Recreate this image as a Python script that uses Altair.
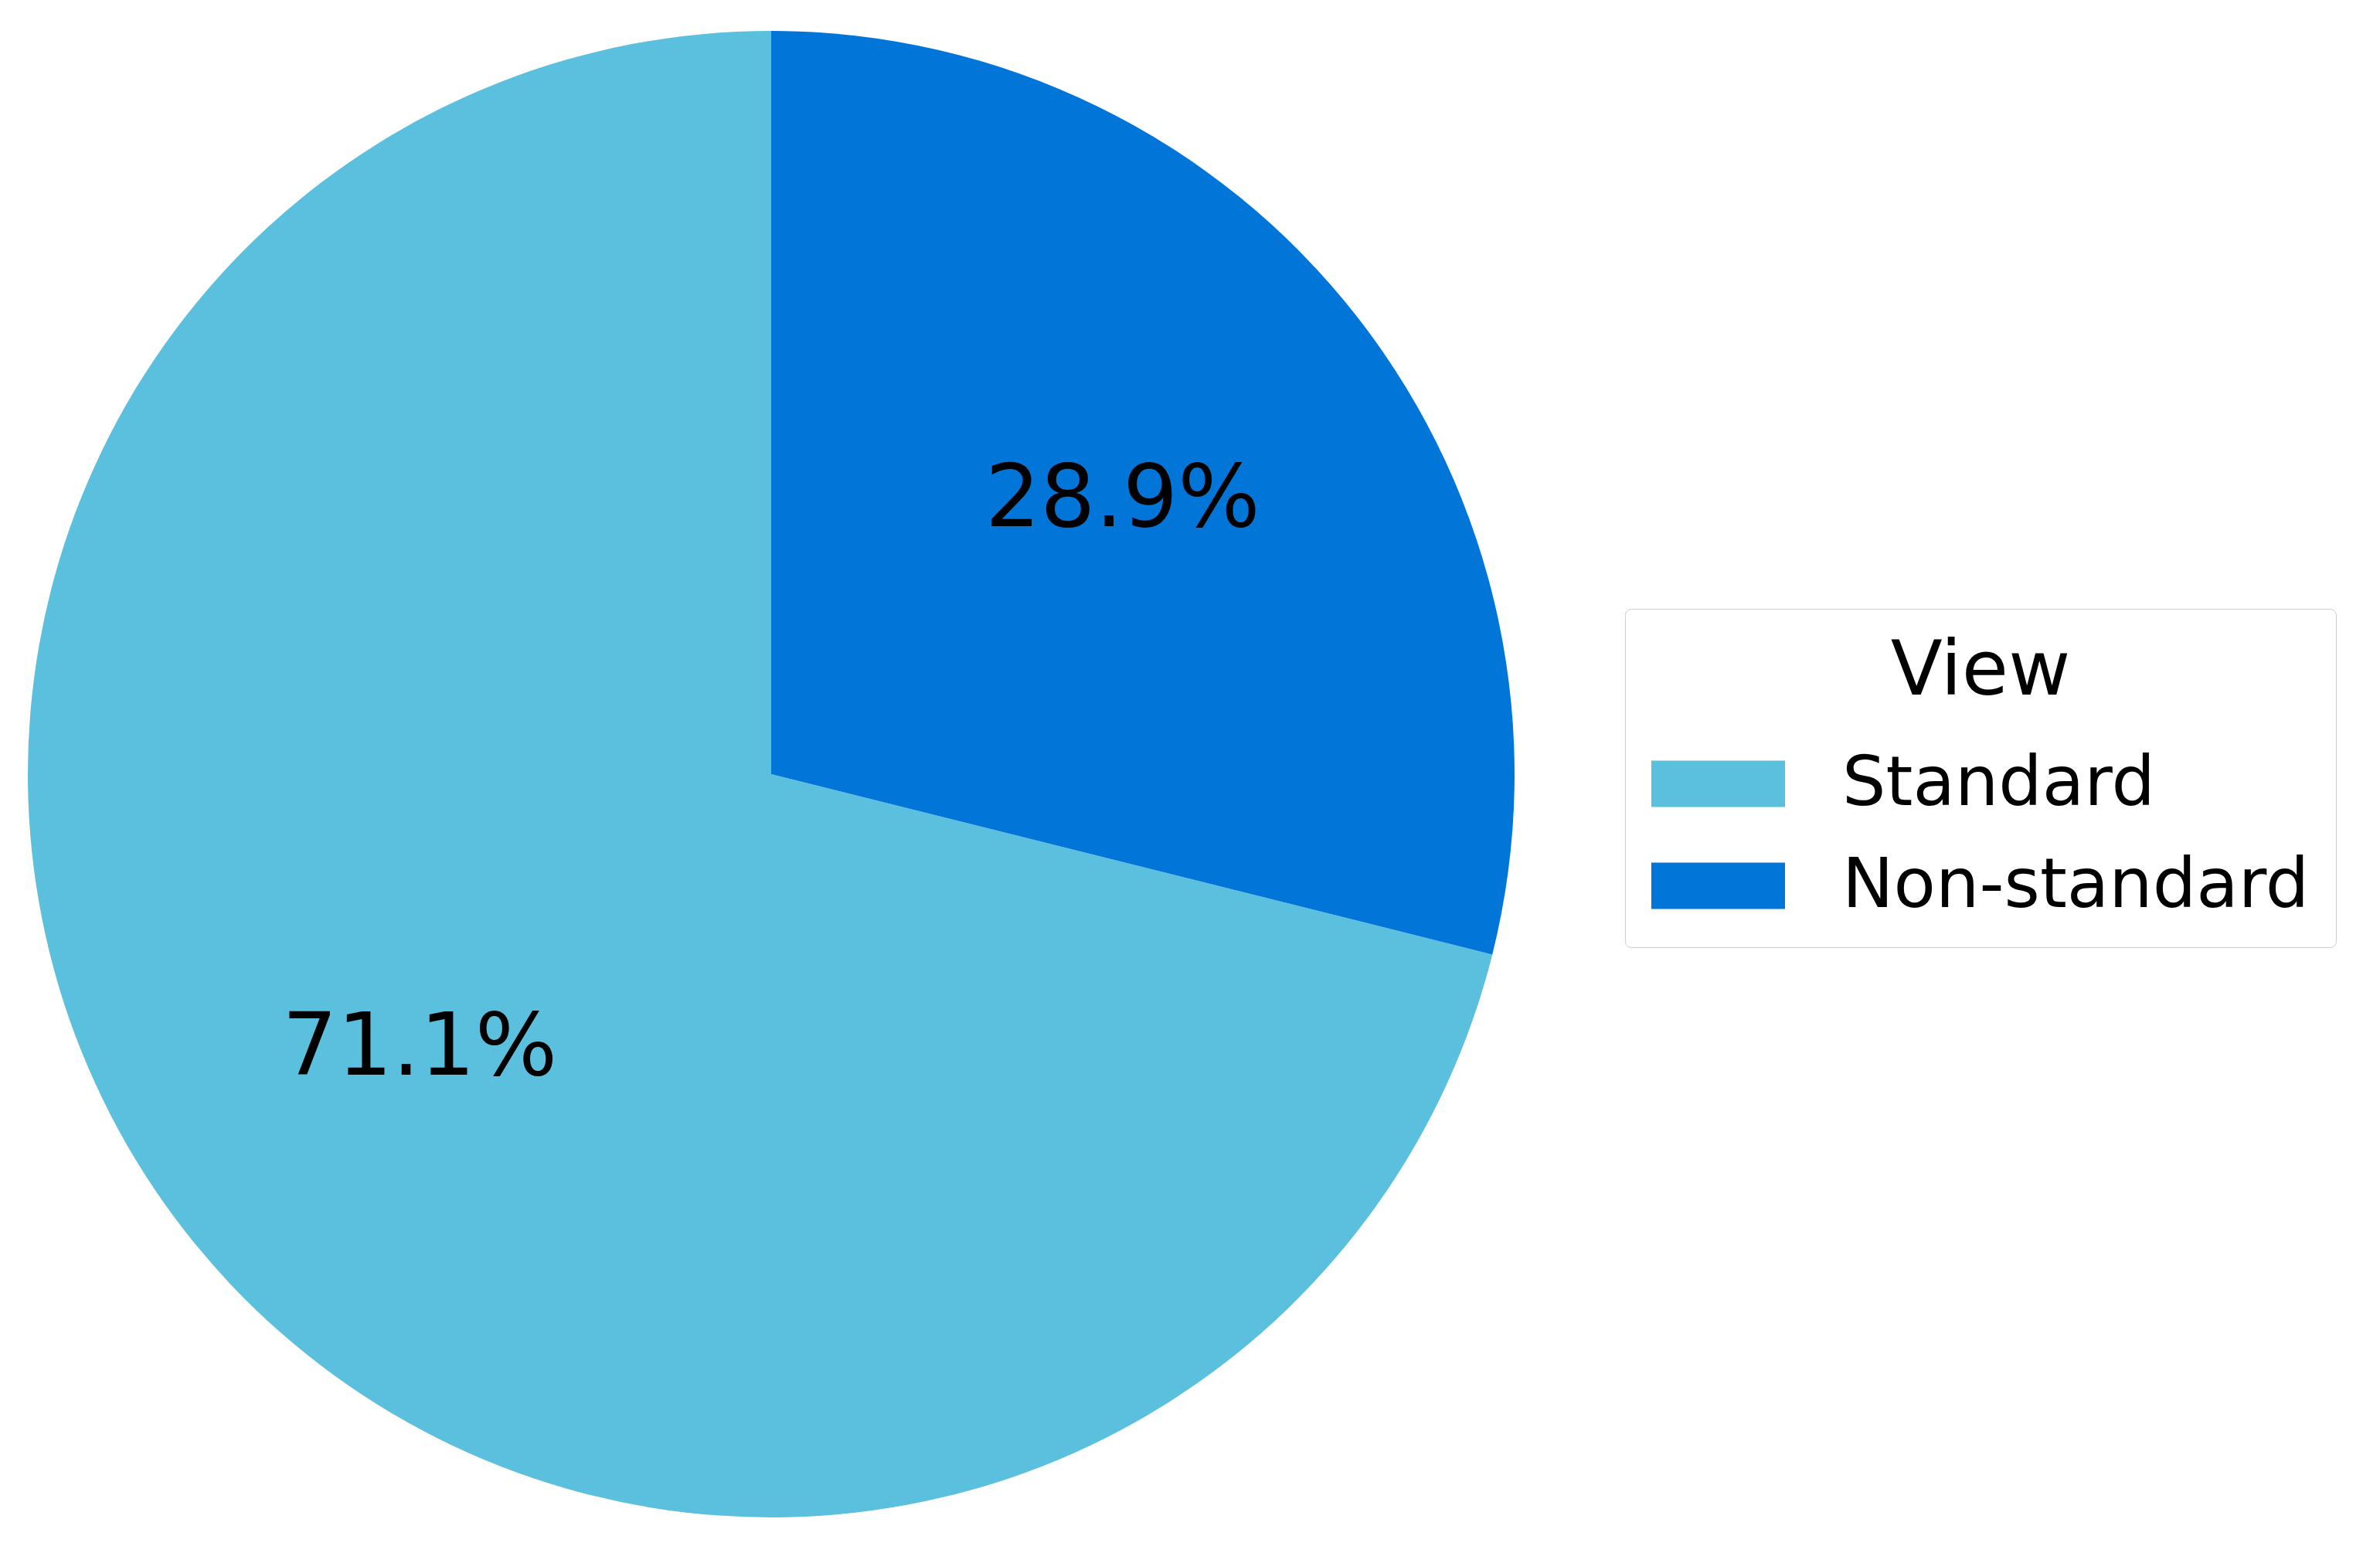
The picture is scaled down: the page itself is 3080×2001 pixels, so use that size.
import altair as alt
import pandas as pd

categories = ["Standard", "Non-standard"]
shares = [71.1, 28.9]
labels = ["71.1%", "28.9%"]
draw_order = [1, 0]
colors = ["#5BC0DE", "#0275D8"]

df = pd.DataFrame({"View": categories, "share": shares, "label": labels, "ord": draw_order})

FONT = "DejaVu Sans"
R = 962

base = alt.Chart(df).encode(
    theta=alt.Theta("share:Q", stack=True),
    order=alt.Order("ord:Q", sort="ascending"),
)

arcs = base.mark_arc(outerRadius=R, stroke=None).encode(
    color=alt.Color(
        "View:N",
        scale=alt.Scale(domain=categories, range=colors),
        sort=categories,
        legend=alt.Legend(
            title="View",
            orient="none",
            legendX=2095,
            legendY=780,
            titleFont=FONT,
            titleFontSize=98,
            titleFontWeight="normal",
            titleColor="#000000",
            titleAnchor="middle",
            titlePadding=8,
            titleLimit=3000,
            labelFont=FONT,
            labelFontSize=89,
            labelColor="#000000",
            labelOffset=74,
            labelLimit=3000,
            symbolType="M-1,-0.347H1V0.347H-1Z",
            symbolSize=29929,
            symbolStrokeWidth=0,
            rowPadding=0,
            padding=34,
            fillColor="#ffffff",
            strokeColor="#cccccc",
            cornerRadius=8,
        ),
    )
)

texts = base.mark_text(radius=577, font=FONT, fontSize=112, color="#000000",
                       align="center", baseline="middle").encode(text="label:N")

chart = (
    alt.layer(arcs, texts)
    .properties(width=1980, height=1988, padding=0)
    .configure_view(stroke=None)
)

chart.save("out.html", embed_options={"renderer": "svg", "actions": False})
